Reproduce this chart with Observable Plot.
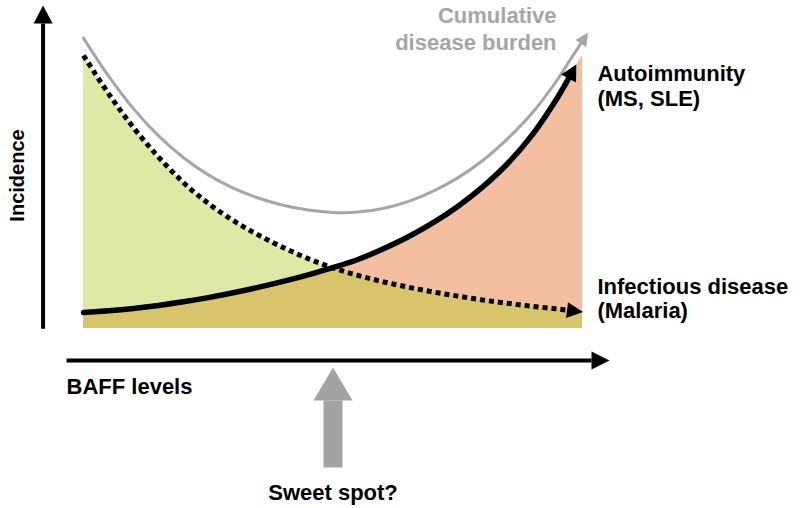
<!DOCTYPE html>
<html><head><meta charset="utf-8">
<script src="https://cdn.jsdelivr.net/npm/d3@7"></script>
<script src="https://cdn.jsdelivr.net/npm/@observablehq/plot@0.6"></script>
<style>body{margin:0;background:#fff}</style>
</head><body><div id="chart"></div>
<script>
// BAFF level (x, arbitrary units 0–10)
const baff = [0,0.5,1,1.5,2,2.5,3,3.5,4,4.5,5,5.5,6,6.5,7,7.5,8,8.5,9,9.5,9.75,10];
// Incidence (arbitrary units)
const infectious   = [9.1,7.83,6.7,5.72,4.87,4.17,3.6,3.12,2.7,2.33,2.02,1.77,1.56,1.38,1.22,1.08,0.95,0.84,0.74,0.65,0.6,0.56];
const autoimmunity = [0.53,0.59,0.67,0.77,0.89,1.03,1.19,1.37,1.57,1.79,2.03,2.3,2.65,3.05,3.52,4.07,4.72,5.5,6.47,7.7,8.42,9.1];
const cumulative   = [9.68,8.42,7.33,6.43,5.7,5.12,4.68,4.35,4.11,3.95,3.87,3.88,4.0,4.23,4.57,5.02,5.6,6.33,7.2,8.3,8.95,9.58];
const sweetSpot = 5;
const seriesLabels = ["Cumulative\ndisease burden", "Autoimmunity\n(MS, SLE)", "Infectious disease\n(Malaria)"];
const axisLabels = ["Incidence", "BAFF levels"];
const sweetLabel = "Sweet spot?";

const rows = baff.map((x, i) => ({
  x, inf: infectious[i], auto: autoimmunity[i], cum: cumulative[i],
  both: Math.min(infectious[i], autoimmunity[i])
}));
const lineEnd = 9.75;

function head(len, wid, back) {
  return (color) => {
    const ns = "http://www.w3.org/2000/svg";
    const m = document.createElementNS(ns, "marker");
    m.setAttribute("markerUnits", "userSpaceOnUse");
    m.setAttribute("orient", "auto");
    m.setAttribute("overflow", "visible");
    m.setAttribute("markerWidth", len);
    m.setAttribute("markerHeight", wid);
    m.setAttribute("refX", back);
    m.setAttribute("refY", 0);
    const p = document.createElementNS(ns, "path");
    p.setAttribute("d", `M0,${-wid/2}L${len},0L0,${wid/2}Z`);
    p.setAttribute("fill", color);
    p.setAttribute("stroke", "none");
    m.appendChild(p);
    return m;
  };
}

const green = "#e0e8a6", salmon = "#f4bea0", tan = "#d7c46b";
const grey = "#a6a6a6";
const txt = {fontSize: 22, fontWeight: "bold"};

const chart = Plot.plot({
  width: 800, height: 508,
  marginLeft: 83, marginRight: 218, marginTop: 28, marginBottom: 180,
  x: {domain: [0, 10], axis: null},
  y: {domain: [0, 10], axis: null},
  style: {fontFamily: "'Liberation Sans', Arial, sans-serif", background: "#fff", overflow: "visible"},
  marks: [
    Plot.areaY(rows, {x: "x", y: "inf", fill: green, curve: "catmull-rom"}),
    Plot.areaY(rows, {x: "x", y: "auto", fill: salmon, curve: "catmull-rom"}),
    Plot.areaY(rows, {x: "x", y: "both", fill: tan, curve: "catmull-rom"}),
    Plot.line(rows, {x: "x", y: "cum", stroke: grey, strokeWidth: 3, curve: "catmull-rom", markerEnd: head(13, 13, 3)}),
    Plot.line(rows.filter(d => d.x <= lineEnd), {x: "x", y: "inf", stroke: "#000", strokeWidth: 5, strokeDasharray: "5,4", strokeLinecap: "butt", strokeLinejoin: "miter", curve: "catmull-rom", markerEnd: head(16, 16, 3)}),
    Plot.line(rows.filter(d => d.x <= lineEnd), {x: "x", y: "auto", stroke: "#000", strokeWidth: 5.5, curve: "catmull-rom", markerEnd: head(16, 17, 3)}),
    // axes arrows
    Plot.link([0], {x1: -0.81, x2: -0.81, y1: -0.01, y2: 10.17, stroke: "#000", strokeWidth: 4, strokeLinecap: "butt", markerEnd: head(18, 19, 0)}),
    Plot.link([0], {x1: -0.34, x2: 10.18, y1: -1.07, y2: -1.07, stroke: "#000", strokeWidth: 4, strokeLinecap: "butt", markerEnd: head(18, 18, 0)}),
    // sweet spot arrow
    Plot.link([sweetSpot], {x1: d => d, x2: d => d, y1: -4.63, y2: -2.4, stroke: "#a3a3a3", strokeWidth: 19, strokeLinecap: "butt", markerEnd: head(33, 39, 0)}),
    // labels
    Plot.text([seriesLabels[0]], {text: d => d, x: 9.48, y: 10.85, textAnchor: "end", lineAnchor: "top", lineHeight: 1.25, fill: grey, ...txt}),
    Plot.text([seriesLabels[1]], {text: d => d, x: 10.3, y: 8.85, textAnchor: "start", lineAnchor: "top", lineHeight: 1.14, fill: "#000", ...txt}),
    Plot.text([seriesLabels[2]], {text: d => d, x: 10.3, y: 1.69, textAnchor: "start", lineAnchor: "top", lineHeight: 1.06, fill: "#000", ...txt}),
    Plot.text([axisLabels[0]], {text: d => d, x: -1.33, y: 5.1, rotate: -90, textAnchor: "middle", fill: "#000", fontSize: 20, fontWeight: "bold"}),
    Plot.text([axisLabels[1]], {text: d => d, x: -0.34, y: -1.65, textAnchor: "start", lineAnchor: "top", fill: "#000", ...txt}),
    Plot.text([sweetLabel], {text: d => d, x: sweetSpot, y: -5.18, textAnchor: "middle", lineAnchor: "top", fill: "#000", ...txt})
  ]
});
document.getElementById("chart").appendChild(chart);
</script>
</body></html>
